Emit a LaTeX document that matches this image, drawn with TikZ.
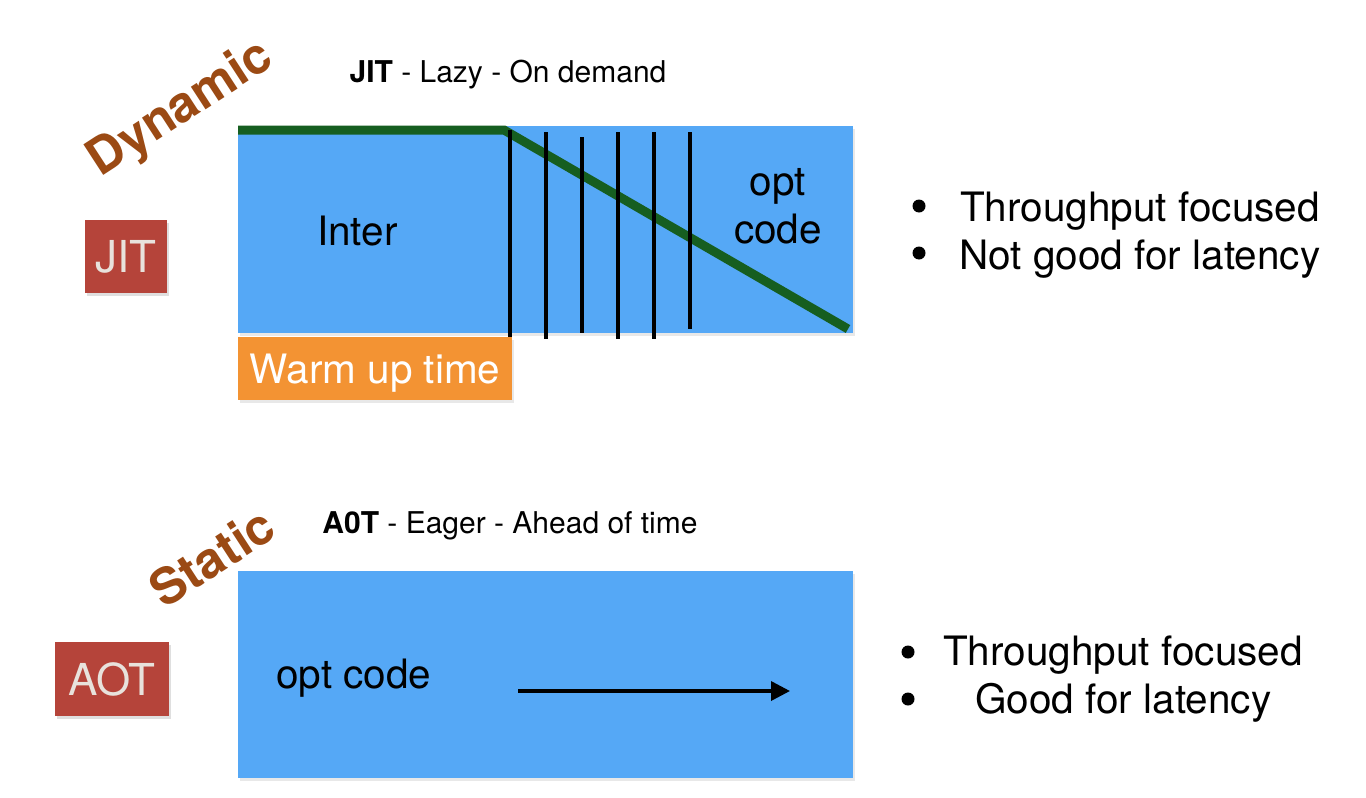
\documentclass[tikz,border=0pt]{standalone}
\usepackage{fontspec}
\setmainfont{TeX Gyre Heros}
\usetikzlibrary{arrows.meta,positioning,shadows}
\definecolor{codeblue}{HTML}{55A8F6}
\definecolor{pathgreen}{HTML}{165E20}
\definecolor{warmorange}{HTML}{F39333}
\definecolor{tagred}{HTML}{B5443A}
\definecolor{tagtext}{HTML}{E8E2DC}
\definecolor{modebrown}{HTML}{9B4A14}
\newcommand{\bodysize}{\fontsize{40.5}{48}\selectfont}
\newcommand{\headsize}{\fontsize{30}{34}\selectfont}

\begin{document}
\begin{tikzpicture}[x=1pt, y=-1pt,
    phase/.style={fill=codeblue, inner sep=0pt, anchor=north west,
        drop shadow={shadow xshift=2pt, shadow yshift=-3pt, opacity=0.18}},
    warmup/.style={fill=warmorange, inner sep=0pt, anchor=north west, text=white,
        font=\bodysize, text depth=0pt,
        drop shadow={shadow xshift=2pt, shadow yshift=-3pt, opacity=0.18}},
    tag/.style={fill=tagred, inner sep=0pt, text=tagtext, text depth=0pt,
        font=\fontsize{44}{48}\selectfont,
        drop shadow={shadow xshift=2pt, shadow yshift=-3pt, opacity=0.25}},
    mode/.style={text=modebrown, font=\fontsize{50}{54}\selectfont\bfseries,
        inner sep=0pt, rotate=33},
    bodytext/.style={font=\bodysize, anchor=base west, inner sep=0pt},
    bulletdot/.style={circle, fill=black, inner sep=0pt, minimum size=13pt}]

    \useasboundingbox (0,0) rectangle (1366,798);
    \fill[white] (0,0) rectangle (1366,798);

    % === Top: JIT ===
    \node[mode] (dynamic) at (181,110) {Dynamic};
    \node[font=\headsize, anchor=base] (jithead) at (508,82) {\textbf{JIT} - Lazy - On demand};
    \node[tag, minimum width=82pt, minimum height=73pt] (jittag) at (126,256.5) {JIT};

    \node[phase, minimum width=615pt, minimum height=207pt] (jitbox) at (238,126) {};
    \node[warmup, minimum width=274pt, minimum height=63pt] (warm) at (238,337) {Warm up time};
    \node[bodytext] (inter) at (317,245) {Inter};
    \node[bodytext, anchor=base] (opt) at (778,195) {opt};
    \node[bodytext, anchor=base] (code) at (778,243) {code};

    % Green line
    \coordinate (g0) at (238,130);
    \coordinate (g1) at (504,130);
    \coordinate (g2) at (848,329);
    \draw[pathgreen, line width=9pt, line join=miter] (g0) -- (g1) -- (g2);

    % Compile steps
    \foreach \x/\t/\b in {510/130/337, 546/132/339, 582/137/333, 618/132/339, 654/132/339, 690/132/329}
        \draw[black, line width=4pt] (\x,\t) -- (\x,\b);

    \node[bulletdot] (jb1) at (919,206) {};
    \node[bulletdot] (jb2) at (919,253) {};
    \node[bodytext] (jit1) at (960,221) {Throughput focused};
    \node[bodytext] (jit2) at (959,269) {Not good for latency};

    % === Bottom: AOT ===
    \node[mode] (static) at (212,557) {Static};
    \node[font=\headsize, anchor=base] (aothead) at (510,533) {\textbf{A0T} - Eager - Ahead of time};
    \node[tag, minimum width=114pt, minimum height=74pt] (aottag) at (112,679) {AOT};

    \node[phase, minimum width=615pt, minimum height=207pt] (aotbox) at (238,571) {};
    \node[bodytext] (optcode) at (276,688) {opt code};

    \coordinate (arrstart) at (518,691);
    \coordinate (arrend) at (790,691);
    \draw[-{Triangle[length=19pt, width=19pt]}, line width=3.5pt] (arrstart) -- (arrend);

    \node[bulletdot] (ab1) at (908,652) {};
    \node[bulletdot] (ab2) at (908,699) {};
    \node[bodytext] (aot1) at (943,665) {Throughput focused};
    \node[bodytext] (aot2) at (975,713) {Good for latency};
\end{tikzpicture}
\end{document}
